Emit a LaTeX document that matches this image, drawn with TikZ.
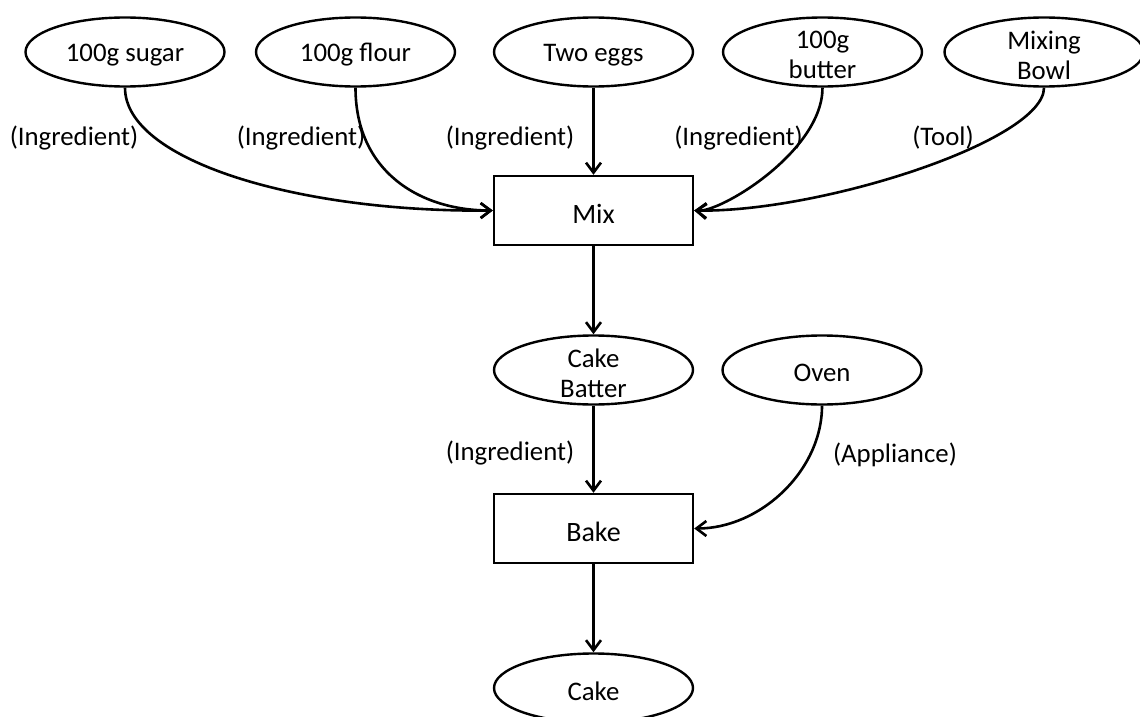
\documentclass[tikz,border=0pt]{standalone}
\usepackage{fontspec}
\setmainfont{Carlito}
\usetikzlibrary{shapes.geometric,arrows.meta}
\begin{document}
\begin{tikzpicture}[x=0.5pt,y=-0.5pt,
  txt/.style={font=\fontsize{13.4}{15}\selectfont,inner sep=0pt,align=center,yshift=-1.5pt},
  bigtxt/.style={txt,font=\fontsize{14}{16}\selectfont},
  thing/.style={ellipse,draw,line width=1.2pt,minimum width=99.5pt,
    minimum height=34.5pt,inner sep=0pt,label={[txt]center:#1}},
  proc/.style={rectangle,draw,line width=1.2pt,minimum width=99.5pt,
    minimum height=34.5pt,inner sep=0pt,label={[bigtxt]center:#1}},
  role/.style={txt},
  flow/.style={line width=1.3pt,
    -{Straight Barb[length=5pt,width=7.5pt,line width=1.3pt]}}
]
\useasboundingbox (0,0) rectangle (1140,717);
\clip (0,0) rectangle (1140,717);

% inputs of the mixing step
\node[thing={100g sugar}] (sugar) at (125,52) {};
\node[thing={100g flour}] (flour) at (355.5,52) {};
\node[thing={Two eggs}] (eggs) at (593.5,52) {};
\node[thing={100g\\butter}] (butter) at (822.5,52) {};
\node[thing={Mixing\\Bowl}] (bowl) at (1044,52) {};

% processes and products
\node[proc={Mix}] (mix) at (593.5,210.5) {};
\node[thing={Cake\\Batter}] (batter) at (593.5,370) {};
\node[thing={Oven}] (oven) at (822,370) {};
\node[proc={Bake}] (bake) at (593.5,528.5) {};
\node[thing={Cake}] (cake) at (593.5,688) {};

% role labels
\node[role] (l1) at (74,135) {(Ingredient)};
\node[role] (l2) at (301,135) {(Ingredient)};
\node[role] (l3) at (510,135) {(Ingredient)};
\node[role] (l4) at (738.5,135) {(Ingredient)};
\node[role] (l5) at (943,135) {(Tool)};
\node[role] (l6) at (510,450) {(Ingredient)};
\node[role] (l7) at (895,452) {(Appliance)};

% connectors
\draw[flow] (sugar.south) .. controls +(0,73) and +(-194,2) .. (mix.west);
\draw[flow] (flour.south) .. controls +(0,83) and +(-74,0) .. (mix.west);
\draw[flow] (eggs) -- (mix);
\draw[flow] (butter.south) .. controls +(0,63) and +(27,2) .. (mix.east);
\draw[flow] (bowl.south) .. controls +(0,53) and +(127,2) .. (mix.east);
\draw[flow] (mix) -- (batter);
\draw[flow] (batter) -- (bake);
\draw[flow] (oven.south) .. controls +(0,65) and +(66,0) .. (bake.east);
\draw[flow] (bake) -- (cake);
\end{tikzpicture}
\end{document}
